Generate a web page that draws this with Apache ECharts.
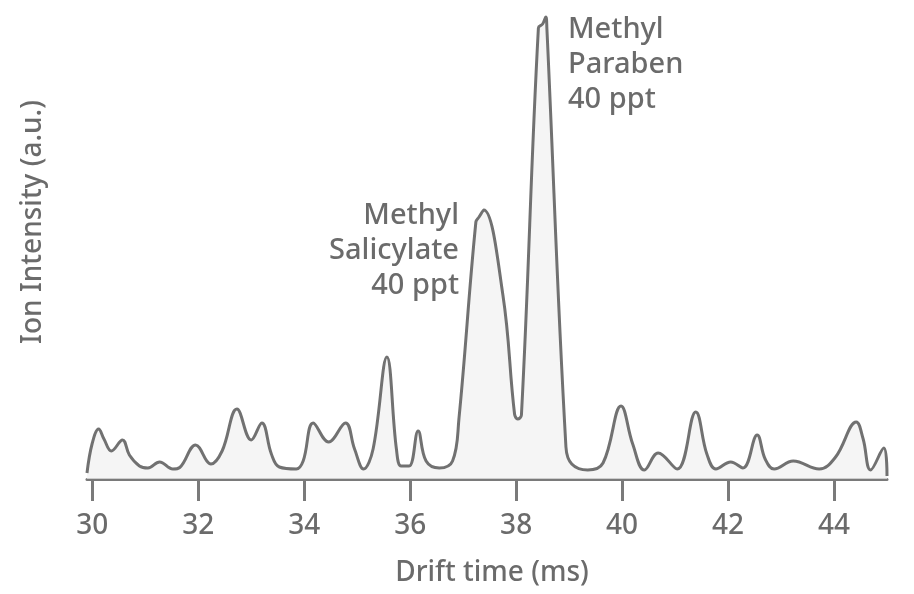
<!DOCTYPE html>
<html>
<head>
<meta charset="utf-8">
<script src="https://cdn.jsdelivr.net/npm/echarts@6/dist/echarts.min.js"></script>
<style>
html,body{margin:0;padding:0;background:#fff;}
#chart{width:914px;height:594px;}
</style>
</head>
<body>
<div id="chart"></div>
<script>
// Drift time (ms)
const driftTime = [
  29.9, 30.0, 30.12, 30.22, 30.36, 30.57, 30.7, 30.89,
  31.05, 31.27, 31.52, 31.65, 31.95, 32.24, 32.45, 32.73, 33.0, 33.2,
  33.38, 33.53, 33.85, 33.98, 34.17, 34.46, 34.78, 34.95, 35.12,
  35.3, 35.56, 35.74, 35.83, 35.98, 36.15, 36.3, 36.55, 36.8,
  36.92, 37.24, 37.3, 37.39, 37.75, 37.97, 38.03, 38.1,
  38.42, 38.5, 38.56, 38.58, 38.94, 39.05, 39.35, 39.64,
  39.98, 40.2, 40.42, 40.68, 41.04, 41.39, 41.6, 41.77, 42.05, 42.28, 42.55, 42.7, 42.87,
  43.23, 43.72, 44.03, 44.42, 44.55, 44.69, 44.94, 45.0
];
// Ion intensity (a.u.)
const intensity = [
  6, 36, 50, 40, 28, 39, 24, 13,
  11, 17, 10, 11.5, 34, 15, 28, 70, 39, 56,
  25, 12, 10, 18, 56, 37, 56, 30, 10,
  30, 122, 30, 13, 13, 48, 18, 11, 18,
  60, 257, 262, 269, 184, 65, 60, 64,
  451, 455, 462, 451, 32, 15, 9, 16,
  73, 35, 9, 26, 10, 67, 25, 10, 17, 11, 44, 20, 10,
  18, 10, 22, 57, 40, 9, 31, 3
];
const xTicks = [30, 32, 34, 36, 38, 40, 42, 44];
const xTitle = 'Drift time (ms)';
const yTitle = 'Ion Intensity (a.u.)';
const peakLabels = [
  ['Methyl', 'Paraben', '40 ppt'],
  ['Methyl', 'Salicylate', '40 ppt']
];

const points = driftTime.map((x, i) => [x, intensity[i]]);
const grey = '#6b6b6b';
const font = '"Noto Sans", "Open Sans", sans-serif';

const chart = echarts.init(document.getElementById('chart'), null, {renderer: 'canvas'});
chart.setOption({
  animation: false,
  backgroundColor: '#ffffff',
  grid: {left: 87, right: 27, top: 9, bottom: 115},
  xAxis: {
    type: 'value',
    min: 29.9,
    max: 45,
    name: xTitle,
    nameLocation: 'middle',
    nameGap: 80,
    nameTextStyle: {color: grey, fontSize: 28, fontWeight: 500, fontFamily: font, padding: [0, 0, 0, 10]},
    axisLine: {show: true, lineStyle: {color: '#7a7a7a', width: 3}},
    axisTick: {show: true, customValues: xTicks, length: 22, inside: false, lineStyle: {color: '#7a7a7a', width: 3}},
    axisLabel: {customValues: xTicks, color: grey, fontSize: 28, fontWeight: 500, fontFamily: font, margin: 33},
    splitLine: {show: false}
  },
  yAxis: {
    type: 'value',
    min: 0,
    max: 470,
    axisLine: {show: false},
    axisTick: {show: false},
    axisLabel: {show: false},
    splitLine: {show: false}
  },
  series: [{
    type: 'line',
    data: points,
    smooth: 0.4,
    symbol: 'none',
    lineStyle: {color: '#717171', width: 3},
    areaStyle: {color: '#f1f1f1', origin: 'start'}
  }],
  graphic: [
    {
      type: 'text', x: 33, y: 222, rotation: Math.PI / 2,
      style: {text: yTitle, fill: grey, font: '500 28px ' + font, textAlign: 'center', textVerticalAlign: 'middle'}
    },
    {
      type: 'text', left: 568, top: 12,
      style: {text: peakLabels[0].join('\n'), fill: grey, font: '500 29px ' + font, lineHeight: 35, textAlign: 'left'}
    },
    {
      type: 'text', right: 914 - 459, top: 198,
      style: {text: peakLabels[1].join('\n'), fill: grey, font: '500 29px ' + font, lineHeight: 35, textAlign: 'right'}
    }
  ]
});
</script>
</body>
</html>
